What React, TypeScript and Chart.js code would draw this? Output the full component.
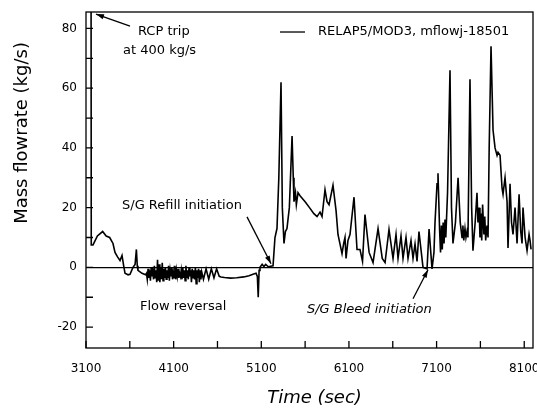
import React, { useEffect, useRef } from 'react';
import { Chart, registerables } from 'chart.js';

Chart.register(...registerables);

// ---- data ----
const timeSec = [
  3100, 3150, 3160, 3180, 3230, 3290, 3330, 3370, 3408, 3431,
  3460, 3488, 3511, 3530, 3545, 3580, 3602, 3636, 3660, 3675,
  3685, 3693, 3739, 3780, 3790, 3799, 3808, 3817, 3826, 3835,
  3844, 3853, 3862, 3871, 3880, 3889, 3898, 3907, 3916, 3925,
  3934, 3943, 3952, 3961, 3970, 3979, 3988, 3997, 4006, 4015,
  4024, 4033, 4042, 4051, 4060, 4069, 4078, 4087, 4096, 4105,
  4114, 4123, 4132, 4141, 4150, 4159, 4168, 4177, 4186, 4195,
  4204, 4213, 4222, 4231, 4240, 4249, 4258, 4267, 4276, 4285,
  4294, 4303, 4312, 4321, 4330, 4339, 4348, 4357, 4366, 4375,
  4384, 4393, 4402, 4411, 4420, 4440, 4470, 4500, 4530, 4560,
  4590, 4620, 4640, 4680, 4750, 4820, 4900, 4960, 5005, 5040,
  5055, 5065, 5075, 5085, 5110, 5130, 5150, 5180, 5234, 5256,
  5279, 5300, 5325, 5340, 5359, 5375, 5393, 5420, 5451, 5465,
  5473, 5490, 5500, 5519, 5542, 5600, 5650, 5700, 5736, 5770,
  5793, 5827, 5850, 5873, 5918, 5953, 5975, 6021, 6040, 6055,
  6067, 6089, 6112, 6158, 6192, 6226, 6255, 6283, 6330, 6375,
  6432, 6480, 6512, 6557, 6603, 6637, 6660, 6694, 6717, 6751,
  6774, 6808, 6831, 6854, 6877, 6899, 6945, 6991, 7014, 7048,
  7070, 7082, 7105, 7116, 7135, 7145, 7155, 7165, 7175, 7185,
  7196, 7205, 7225, 7253, 7270, 7287, 7315, 7345, 7370, 7390,
  7400, 7410, 7424, 7435, 7447, 7458, 7481, 7500, 7515, 7540,
  7561, 7572, 7585, 7595, 7605, 7615, 7625, 7640, 7650, 7660,
  7675, 7687, 7700, 7721, 7735, 7744, 7767, 7790, 7801, 7824,
  7847, 7858, 7881, 7904, 7915, 7938, 7955, 7972, 7995, 8018,
  8041, 8060, 8075, 8086, 8110, 8132, 8155, 8166, 8178,
];

const flowKgs = [
  400, 400, 7.5, 7.5, 10.5, 12, 10.5, 10, 8, 5,
  3.5, 2.3, 4, 0.5, -2, -2.5, -2.3, 0, 1, 6,
  0.5, -1, -2, -2.5, -2, -4, -0.5, -3.5, -1, -4.5,
  0, -3, -1.5, -4, 0.5, -3.5, -1, -5, 2.5, -4.5,
  1, -5, 0, -4, 1.5, -4.5, -0.5, -3.5, 0, -4,
  -1, -3.5, 0.5, -4.5, -1, -3, 0, -4, -1.5, -3.5,
  0.5, -4, -1, -3, -0.5, -3.5, -2, -3, -1, -4,
  0, -3.5, -1, -4.5, 0.5, -3.5, -1, -4, 0, -3,
  -1, -5, -0.5, -3.5, -1, -4, 0, -5.5, -1, -3.5,
  -0.5, -5, -1, -4, -1.5, -4, -0.5, -4, -0.5, -3.5,
  -0.5, -3, -3.2, -3.4, -3.6, -3.5, -3.2, -2.8, -2.3, -2,
  -3, -10, -1, 0, 1, 0.3, 1, 0.2, 0.5, 10,
  13, 30, 62, 20, 8, 12, 13, 20, 44, 30,
  22, 25, 21, 25, 24, 22, 20, 18, 17, 18.5,
  17, 26, 22, 21, 27.5, 19, 11, 4.6, 8, 10,
  3, 9, 11, 23.5, 6, 6, 2, 17.7, 5, 1.6,
  13, 3, 1.6, 12.7, 3, 11, 3, 10.5, 3, 10,
  3, 9, 3, 7.8, 2, 12, 0, -0.5, 12.8, -0.5,
  5, 15, 28, 31.5, 12, 5, 14, 6, 15, 8,
  16, 10, 25, 66, 20, 8, 15, 30, 15, 10,
  14, 9, 13, 10, 12, 10, 63, 20, 5.6, 15,
  25, 15, 20, 10, 18, 9, 21, 11, 17, 9,
  14, 10, 40, 74, 57, 46, 40, 37.5, 38.5, 37.5,
  26.5, 24.5, 30, 22, 6.5, 28, 15, 11, 20, 8,
  24.5, 12, 8, 20, 10, 5.6, 11, 9, 6,
];

const xTickValues = [3100, 3600, 4100, 4600, 5100, 5600, 6100, 6600, 7100, 7600, 8100];
const xLabelValues = [3100, 4100, 5100, 6100, 7100, 8100];
const yTickValues = [-20, -10, 0, 10, 20, 30, 40, 50, 60, 70, 80];
const yLabelValues = [-20, 0, 20, 40, 60, 80];

const seriesLabel = 'RELAP5/MOD3, mflowj-18501';
const xTitle = 'Time (sec)';
const yTitle = 'Mass flowrate (kg/s)';

// annotation texts (anchored in data units)
const notes = [
  { text: 'RCP trip', t: 3693, v: 78.8, italic: false },
  { text: 'at 400 kg/s', t: 3522, v: 72.7, italic: false },
  { text: 'S/G Refill initiation', t: 3511, v: 20.6, italic: false },
  { text: 'Flow reversal', t: 3716, v: -13.2, italic: false },
  { text: 'S/G Bleed initiation', t: 5621, v: -14.2, italic: true },
];
const arrows = [
  { t0: 3602, v0: 80.8, t1: 3214, v1: 84.8 },
  { t0: 4937, v0: 16.9, t1: 5211, v1: 1.2 },
  { t0: 6831, v0: -10.5, t1: 7002, v1: -0.8 },
];
const legendPos = { t0: 5313, t1: 5599, v: 78.8, textT: 5747 };

const FONT = "'DejaVu Sans', sans-serif";

const decorPlugin = {
  id: 'decor',
  afterDraw(chart: any) {
    const { ctx, chartArea: a } = chart;
    const x = chart.scales.x;
    const y = chart.scales.y;
    ctx.save();
    ctx.strokeStyle = '#000';
    ctx.fillStyle = '#000';
    ctx.lineWidth = 1.3;
    // frame
    ctx.strokeRect(a.left, a.top, a.right - a.left, a.bottom - a.top);
    // inward ticks
    ctx.beginPath();
    x.ticks.forEach((tk: any) => {
      const px = x.getPixelForValue(tk.value);
      ctx.moveTo(px, a.bottom);
      ctx.lineTo(px, a.bottom - 7);
    });
    y.ticks.forEach((tk: any) => {
      const py = y.getPixelForValue(tk.value);
      ctx.moveTo(a.left, py);
      ctx.lineTo(a.left + 7, py);
    });
    ctx.stroke();

    // legend
    const ly = y.getPixelForValue(legendPos.v);
    ctx.beginPath();
    ctx.moveTo(x.getPixelForValue(legendPos.t0), ly);
    ctx.lineTo(x.getPixelForValue(legendPos.t1), ly);
    ctx.stroke();
    ctx.font = `13px ${FONT}`;
    ctx.textAlign = 'left';
    ctx.textBaseline = 'middle';
    ctx.fillText(seriesLabel, x.getPixelForValue(legendPos.textT), ly);

    // notes
    notes.forEach((n) => {
      ctx.font = `${n.italic ? 'italic ' : ''}13px ${FONT}`;
      ctx.fillText(n.text, x.getPixelForValue(n.t), y.getPixelForValue(n.v));
    });

    // arrows
    arrows.forEach((ar) => {
      const x0 = x.getPixelForValue(ar.t0);
      const y0 = y.getPixelForValue(ar.v0);
      const x1 = x.getPixelForValue(ar.t1);
      const y1 = y.getPixelForValue(ar.v1);
      const ang = Math.atan2(y1 - y0, x1 - x0);
      ctx.beginPath();
      ctx.moveTo(x0, y0);
      ctx.lineTo(x1, y1);
      ctx.stroke();
      const L = 8;
      const W = 2.6;
      ctx.beginPath();
      ctx.moveTo(x1, y1);
      ctx.lineTo(x1 - L * Math.cos(ang) + W * Math.sin(ang), y1 - L * Math.sin(ang) - W * Math.cos(ang));
      ctx.lineTo(x1 - L * Math.cos(ang) - W * Math.sin(ang), y1 - L * Math.sin(ang) + W * Math.cos(ang));
      ctx.closePath();
      ctx.fill();
    });

    // axis titles
    ctx.font = `18px ${FONT}`;
    ctx.textAlign = 'center';
    ctx.save();
    ctx.translate(22, y.getPixelForValue(45));
    ctx.rotate(-Math.PI / 2);
    ctx.fillText(yTitle, 0, 0);
    ctx.restore();
    ctx.font = `italic 18px ${FONT}`;
    ctx.fillText(xTitle, (a.left + a.right) / 2 + 5, 398);
    ctx.restore();
  },
};

export default function App() {
  const ref = useRef<HTMLCanvasElement | null>(null);
  useEffect(() => {
    if (!ref.current) return;
    Chart.defaults.font.family = FONT;
    Chart.defaults.color = '#000';
    const points = timeSec.map((t, i) => ({ x: t, y: flowKgs[i] }));
    const chart = new Chart(ref.current, {
      type: 'line',
      data: {
        datasets: [
          {
            label: seriesLabel,
            data: points,
            borderColor: '#000',
            borderWidth: 1.6,
            pointRadius: 0,
            tension: 0,
            fill: false,
          },
        ],
      },
      options: {
        responsive: false,
        animation: false,
        layout: { padding: { top: 12, right: 4, left: 0, bottom: 0 } },
        plugins: { legend: { display: false }, tooltip: { enabled: false } },
        scales: {
          x: {
            type: 'linear',
            min: 3100,
            max: 8200,
            afterBuildTicks: (s: any) => {
              s.ticks = xTickValues.map((v) => ({ value: v }));
            },
            afterFit: (s: any) => {
              s.height = 60;
              s.paddingLeft = 0;
              s.paddingRight = 0;
            },
            ticks: {
              autoSkip: false,
              maxRotation: 0,
              padding: 14,
              color: '#000',
              font: { size: 12 },
              callback: (v: any) => (xLabelValues.includes(v) ? String(v) : ''),
            },
            grid: { display: false, drawTicks: false },
            border: { display: false },
          },
          y: {
            type: 'linear',
            min: -27,
            max: 85.5,
            afterBuildTicks: (s: any) => {
              s.ticks = yTickValues.map((v) => ({ value: v }));
            },
            afterFit: (s: any) => {
              s.width = 86;
              s.paddingTop = 0;
              s.paddingBottom = 0;
            },
            ticks: {
              padding: 9,
              color: '#000',
              font: { size: 12 },
              callback: (v: any) => (yLabelValues.includes(v) ? String(v) : ''),
            },
            grid: {
              drawTicks: false,
              lineWidth: 1.3,
              color: (c: any) => (c.tick && c.tick.value === 0 ? '#000' : 'rgba(0,0,0,0)'),
            },
            border: { display: false },
          },
        },
      },
      plugins: [decorPlugin],
    } as any);
    return () => chart.destroy();
  }, []);
  return (
    <div style={{ position: 'absolute', left: 0, top: 0, width: 537, height: 408, background: '#fff' }}>
      <canvas ref={ref} width={537} height={408} style={{ display: 'block' }} />
    </div>
  );
}
